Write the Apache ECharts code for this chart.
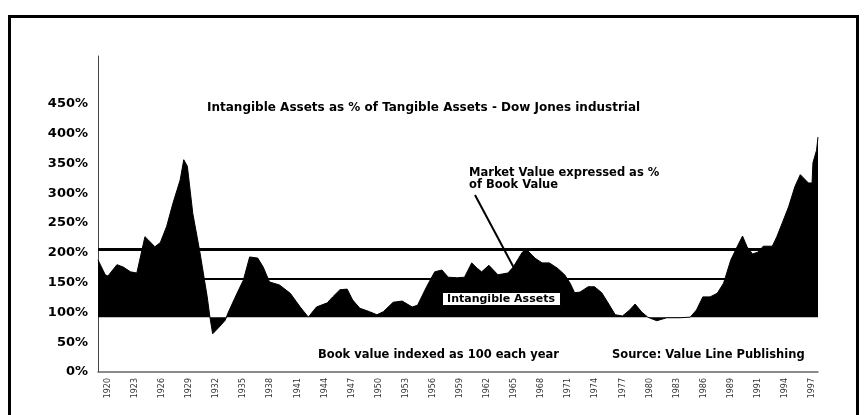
<!DOCTYPE html>
<html>
<head>
<meta charset="utf-8">
<script src="https://cdn.jsdelivr.net/npm/echarts@6/dist/echarts.min.js"></script>
<style>
html, body { margin: 0; padding: 0; background: #fff; }
#main { width: 865px; height: 415px; }
</style>
</head>
<body>
<div id="main"></div>
<script>
// market value as % of book value
var years = [1918.9, 1919.7, 1920.0, 1921.0, 1921.7, 1922.5, 1923.2, 1924.1, 1924.5, 1925.2,
    1925.8, 1926.5, 1927.2, 1928.0, 1928.4, 1928.8, 1929.4, 1930.2, 1931.0, 1931.3,
    1931.6, 1932.3, 1933.0, 1933.3, 1934.3, 1935.0, 1935.7, 1936.6, 1937.2, 1937.9,
    1939.0, 1940.2, 1941.3, 1942.2, 1943.1, 1944.3, 1944.9, 1945.7, 1946.5, 1947.1,
    1947.9, 1949.0, 1949.8, 1950.5, 1951.6, 1952.6, 1953.7, 1954.3, 1955.3, 1956.2,
    1957.0, 1957.7, 1958.7, 1959.5, 1960.3, 1960.9, 1961.4, 1962.2, 1963.2, 1964.3,
    1964.9, 1965.9, 1966.4, 1967.3, 1968.1, 1968.9, 1969.8, 1970.6, 1971.2, 1971.7,
    1972.3, 1973.2, 1973.9, 1974.7, 1975.4, 1976.2, 1977.0, 1977.8, 1978.4, 1979.1,
    1979.8, 1980.8, 1981.9, 1983.4, 1984.5, 1985.2, 1985.9, 1986.7, 1987.5, 1988.2,
    1989.0, 1989.7, 1990.3, 1990.8, 1991.4, 1992.0, 1992.6, 1993.6, 1994.1, 1994.7,
    1995.4, 1996.1, 1996.7, 1997.6, 1998.0, 1998.1, 1998.5, 1998.66];
var values = [188, 163, 161, 180, 176, 168, 166, 227, 221, 210,
    217, 244, 283, 322, 356, 345, 266, 200, 126, 92,
    64, 75, 87, 99, 132, 154, 193, 191, 176, 151,
    146, 132, 109, 92, 109, 116, 126, 138, 139, 121,
    107, 101, 96, 101, 117, 119, 109, 112, 143, 168,
    171, 159, 158, 159, 183, 174, 168, 179, 163, 166,
    176, 201, 205, 191, 183, 183, 174, 163, 149, 133,
    134, 143, 143, 133, 116, 96, 94, 104, 114, 101,
    92, 86, 91, 91, 92, 104, 126, 126, 132, 149,
    188, 210, 228, 210, 198, 201, 211, 211, 227, 250,
    277, 311, 331, 317, 317, 351, 372, 394];

var tickYears = [1920, 1923, 1926, 1929, 1932, 1935, 1938, 1941, 1944, 1947, 1950, 1953, 1956, 1959,
    1962, 1965, 1968, 1971, 1974, 1977, 1980, 1983, 1986, 1989, 1992, 1995, 1998];
var tickLabels = ['1920', '1923', '1926', '1929', '1932', '1935', '1938', '1941', '1944', '1947',
    '1950', '1953', '1956', '1959', '1962', '1965', '1968', '1971', '1974', '1977', '1980', '1983',
    '1986', '1989', '1991', '1994', '1997'];
var yTicks = [0, 50, 100, 150, 200, 250, 300, 350, 400, 450];

var bookBase = 92;          // where the black fill starts
var refLines = [206, 157];  // the two horizontal rules

var dom = document.getElementById('main');
var myChart = echarts.init(dom);
var boldFont = 'bold 11.5px "DejaVu Sans"';

var option = {
    animation: false,
    backgroundColor: '#fff',
    grid: {
        left: 98,
        right: 47,
        top: 56,
        bottom: 43
    },
    xAxis: {
        type: 'value',
        min: 1918.9,
        max: 1998.66,
        axisLine: { show: true, lineStyle: { color: '#666', width: 1.5 } },
        axisTick: { show: false, customValues: tickYears },
        splitLine: { show: false },
        axisLabel: {
            customValues: tickYears,
            rotate: 90,
            margin: 6,
            fontSize: 8,
            fontFamily: 'DejaVu Sans',
            color: '#333',
            formatter: function (v) {
                var i = tickYears.indexOf(Math.round(v));
                return i < 0 ? '' : tickLabels[i];
            }
        }
    },
    yAxis: {
        type: 'value',
        min: 0,
        max: 530,
        interval: 50,
        axisLine: { show: true, lineStyle: { color: '#444', width: 1 } },
        axisTick: { show: false },
        splitLine: { show: false },
        axisLabel: {
            margin: 10,
            fontSize: 13,
            fontWeight: 'bold',
            fontFamily: 'DejaVu Sans',
            color: '#000',
            formatter: function (v) {
                return yTicks.indexOf(v) < 0 ? '' : v + '%';
            }
        }
    },
    series: [
        {
            type: 'line',
            data: years.map(function (y, i) { return [y, values[i]]; }),
            symbol: 'none',
            lineStyle: { color: '#000', width: 1 },
            areaStyle: { color: '#000', opacity: 1, origin: bookBase },
            markLine: {
                silent: true,
                symbol: 'none',
                label: { show: false },
                lineStyle: { color: '#000', type: 'solid' },
                data: [
                    { yAxis: refLines[0], lineStyle: { width: 3 } },
                    { yAxis: refLines[1], lineStyle: { width: 2 } }
                ]
            }
        }
    ],
    graphic: [
        // page frame
        { type: 'rect', z: 100, shape: { x: 9.5, y: 16.5, width: 848, height: 500 },
          style: { fill: null, stroke: '#000', lineWidth: 3 } },
        { type: 'text', z: 100, x: 207, y: 108,
          style: { text: 'Intangible Assets as % of Tangible Assets - Dow Jones industrial',
                   font: 'bold 12px "DejaVu Sans"', fill: '#000', textVerticalAlign: 'middle' } },
        { type: 'text', z: 100, x: 469, y: 173,
          style: { text: 'Market Value expressed as %', font: boldFont, fill: '#000', textVerticalAlign: 'middle' } },
        { type: 'text', z: 100, x: 469, y: 185,
          style: { text: 'of Book Value', font: boldFont, fill: '#000', textVerticalAlign: 'middle' } },
        { type: 'line', z: 100, shape: { x1: 475, y1: 195, x2: 514, y2: 268 },
          style: { stroke: '#000', lineWidth: 2 } },
        { type: 'rect', z: 100, shape: { x: 442.5, y: 292.5, width: 118, height: 13 },
          style: { fill: '#fff', stroke: '#000', lineWidth: 1 } },
        { type: 'text', z: 101, x: 501, y: 299,
          style: { text: 'Intangible Assets', font: 'bold 11px "DejaVu Sans"', fill: '#000',
                   textAlign: 'center', textVerticalAlign: 'middle' } },
        { type: 'text', z: 100, x: 318, y: 355,
          style: { text: 'Book value indexed as 100 each year', font: boldFont, fill: '#000', textVerticalAlign: 'middle' } },
        { type: 'text', z: 100, x: 612, y: 355,
          style: { text: 'Source: Value Line Publishing', font: boldFont, fill: '#000', textVerticalAlign: 'middle' } }
    ]
};

if (option && typeof option === 'object') {
    myChart.setOption(option, true);
    window.onresize = myChart.resize;
}
</script>
</body>
</html>
